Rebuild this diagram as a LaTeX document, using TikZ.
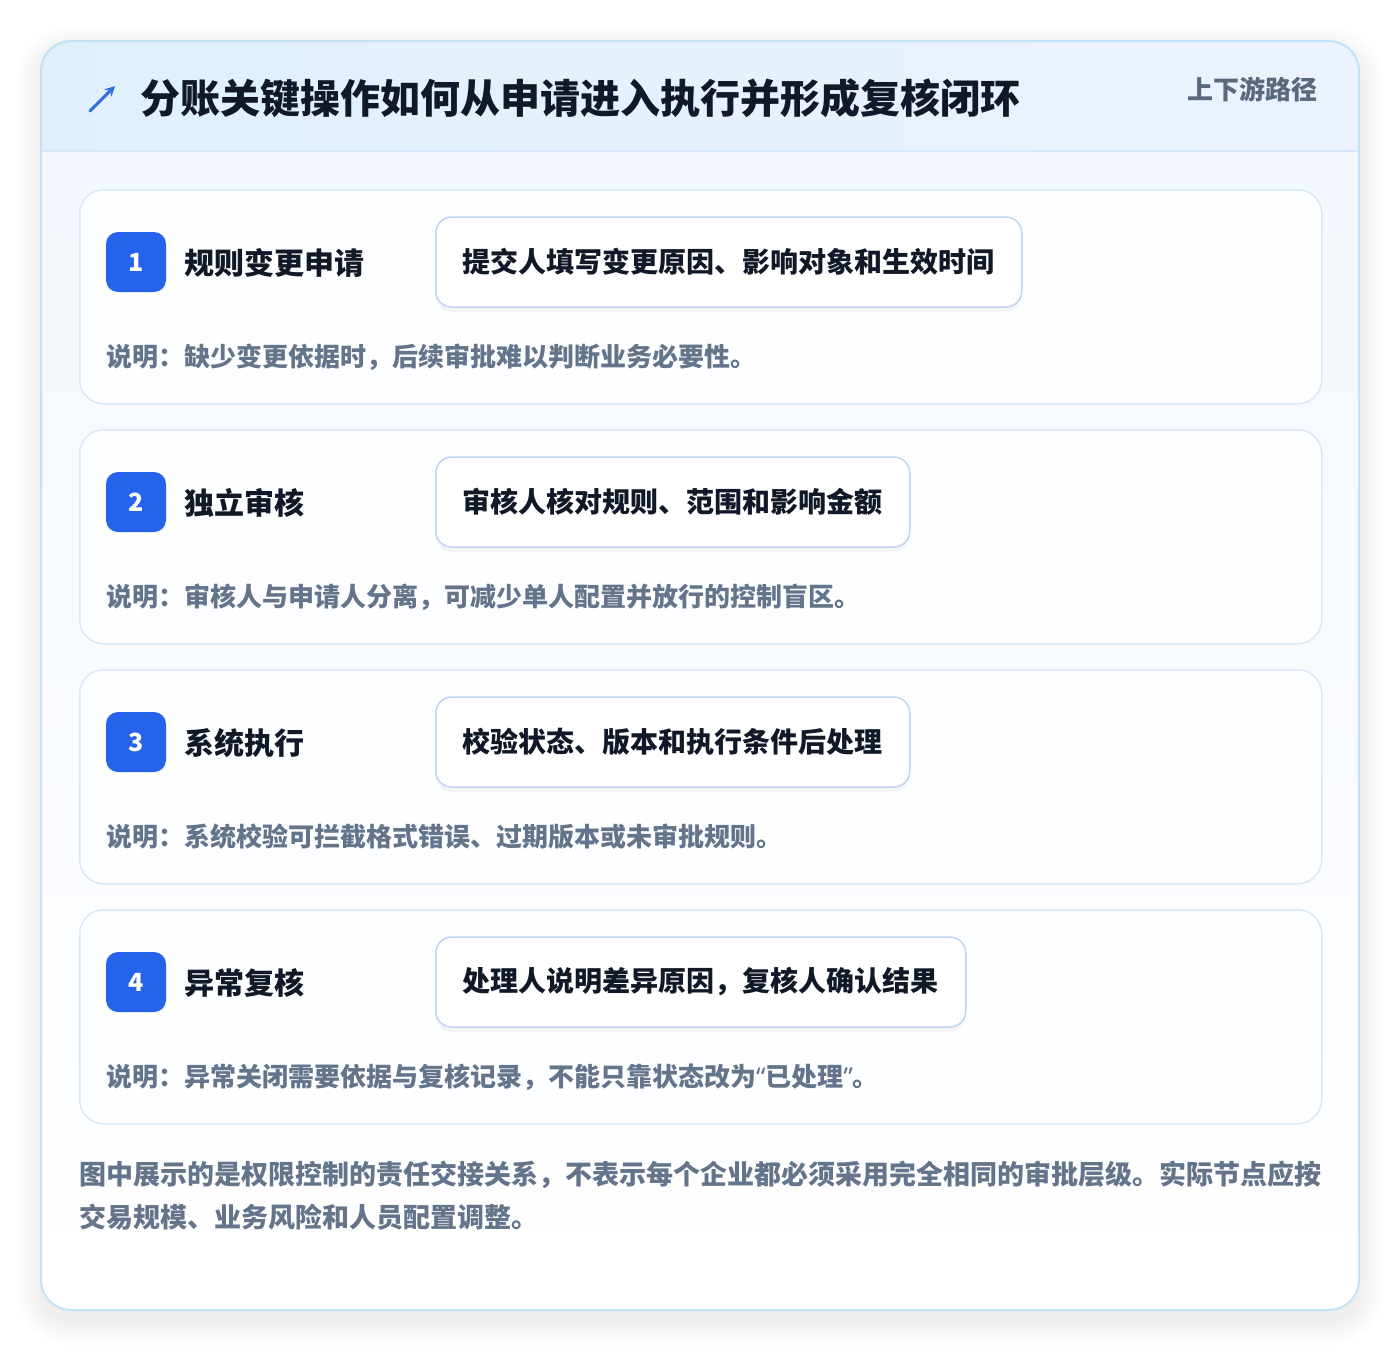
\documentclass[tikz,border=0pt]{standalone}
\usepackage{fontspec}
\setmainfont{Noto Sans CJK SC}
\newfontfamily\latinq{Noto Sans}
\usetikzlibrary{arrows.meta}
\definecolor{cardborder}{HTML}{C4E2F6}
\definecolor{hdrL}{HTML}{DFF0FD}
\definecolor{hdrR}{HTML}{ECF2FD}
\definecolor{hdrline}{HTML}{D5E7F8}
\definecolor{bodyT}{HTML}{F3F8FE}
\definecolor{stepborder}{HTML}{D9E8F8}
\definecolor{stepfill}{HTML}{FDFEFF}
\definecolor{badgeblue}{HTML}{2563EB}
\definecolor{boxborder}{HTML}{BED5F2}
\definecolor{ink}{HTML}{111827}
\definecolor{muted}{HTML}{64748B}
\definecolor{iconblue}{HTML}{2F6FE0}
\tikzset{
  stepcard/.style={draw=stepborder, line width=1.5pt, fill=stepfill, rounded corners=24pt,
    minimum width=1242pt, minimum height=214pt, anchor=north west, inner sep=0pt},
  badge/.style={fill=badgeblue, rounded corners=12pt, minimum size=60pt, inner sep=0pt,
    text=white, font=\fontsize{25}{28}\selectfont\bfseries},
  steptitle/.style={anchor=west, inner sep=0pt, text=ink, font=\fontsize{30}{36}\selectfont\bfseries},
  actbox/.style={anchor=west, draw=boxborder, line width=1.5pt, fill=white, rounded corners=16pt,
    inner xsep=27pt, inner ysep=0pt, minimum height=90pt, text=ink,
    font=\fontsize{28}{34}\selectfont\bfseries,
    preaction={fill=black, opacity=0.035, draw=none, transform canvas={yshift=-5pt}}},
  notetext/.style={anchor=west, inner sep=0pt, text=muted, font=\fontsize{26}{32}\selectfont\bfseries},
  foottext/.style={anchor=west, inner sep=0pt, text=muted, font=\fontsize{27}{34}\selectfont\bfseries},
}
\begin{document}
\begin{tikzpicture}[x=1pt,y=-1pt]
\useasboundingbox (0,0) rectangle (1400,1352);
\fill[white] (0,0) rectangle (1400,1352);
% soft shadow of the main card
\foreach \k in {1,...,16}{
  \fill[black,opacity=0.0055,rounded corners={30+1.6*\k}]
    ({41-1.6*\k},{41+10-1.6*\k}) rectangle ({1359+1.6*\k},{1310+10+1.6*\k});
}
% card body and header
\begin{scope}
  \clip[rounded corners=30pt] (41,41) rectangle (1359,1310);
  \shade[top color=bodyT, bottom color=white] (41,151) rectangle (1359,1310);
  \shade[left color=hdrL, right color=hdrR] (41,41) rectangle (1359,151);
\end{scope}
\draw[hdrline, line width=1.5pt] (41,151) -- (1359,151);
\draw[cardborder, line width=2pt, rounded corners=30pt] (41,41) rectangle (1359,1310);
% header icon and title
\coordinate (icS) at (90,111);
\coordinate (icE) at (115,86);
\draw[iconblue, line width=3pt, line cap=round, -{Stealth[length=10pt,width=10pt]}] (icS) -- (icE);
\node[anchor=west, inner sep=0pt, text=ink, font=\fontsize{40}{48}\selectfont\bfseries] (title) at (140,98)
  {分账关键操作如何从申请进入执行并形成复核闭环};
\node[anchor=east, inner sep=0pt, text=muted!90!black, font=\fontsize{26}{30}\selectfont\bfseries] (sub) at (1318,89)
  {上下游路径};
% steps
\foreach \i/\t/\b/\n [evaluate=\i as \oy using {240*(\i-1)}] in {
  1/规则变更申请/提交人填写变更原因、影响对象和生效时间/说明：缺少变更依据时，后续审批难以判断业务必要性。,
  2/独立审核/审核人核对规则、范围和影响金额/说明：审核人与申请人分离，可减少单人配置并放行的控制盲区。,
  3/系统执行/校验状态、版本和执行条件后处理/说明：系统校验可拦截格式错误、过期版本或未审批规则。,
  4/异常复核/处理人说明差异原因，复核人确认结果/说明：异常关闭需要依据与复核记录，不能只靠状态改为{\latinq “}已处理{\latinq ”}。}{
  \node[stepcard] (card\i) at (79,{189+\oy}) {};
  \node[badge] (badge\i) at (136,{262+\oy}) {\i};
  \node[steptitle] (stitle\i) at (184,{263+\oy}) {\t};
  \node[actbox] (box\i) at (435,{262+\oy}) {\b};
  \node[notetext] (note\i) at (106,{357+\oy}) {\n};
}
% footer
\node[foottext] (foot1) at (79,1175) {图中展示的是权限控制的责任交接关系，不表示每个企业都必须采用完全相同的审批层级。实际节点应按};
\node[foottext] (foot2) at (79,1217) {交易规模、业务风险和人员配置调整。};
\end{tikzpicture}
\end{document}
